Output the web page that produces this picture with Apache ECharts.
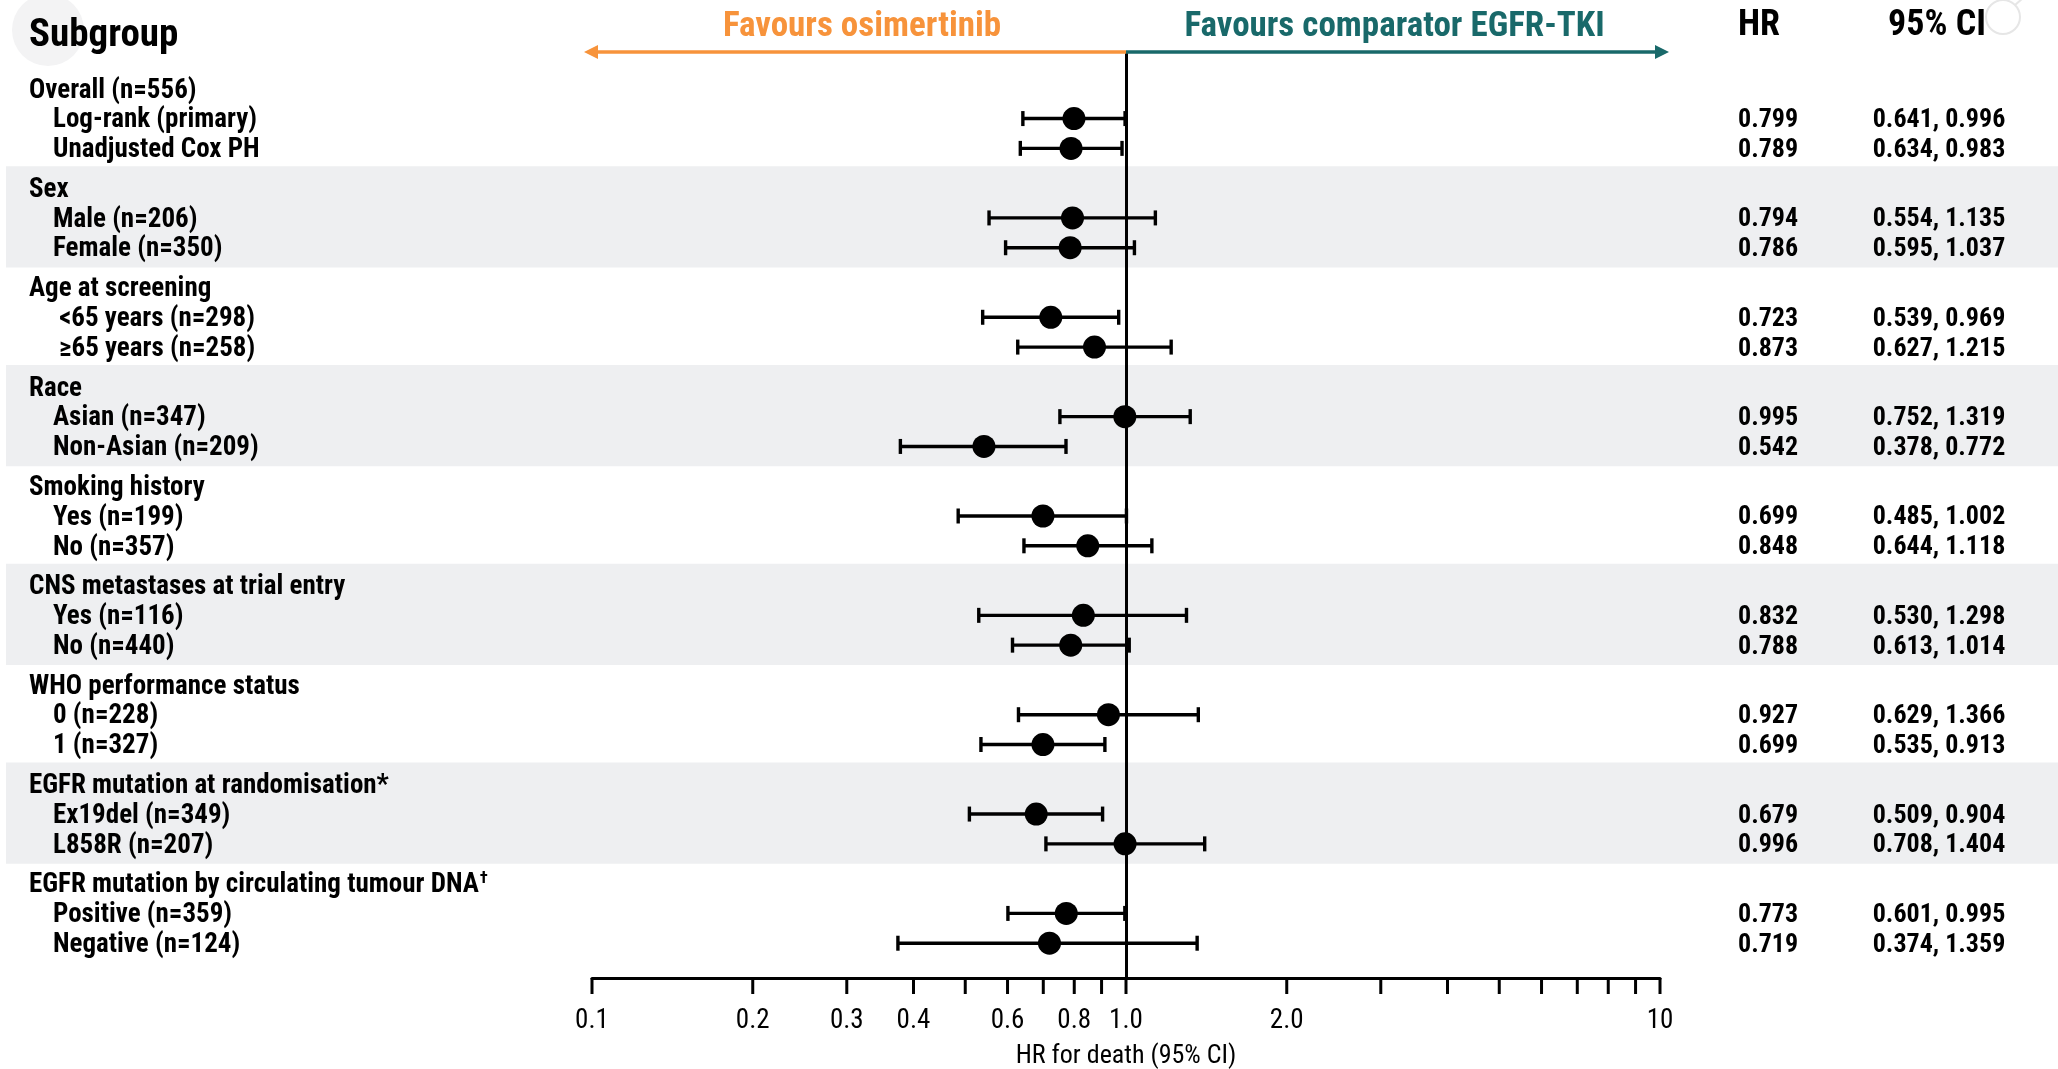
<!DOCTYPE html>
<html><head><meta charset="utf-8">
<script src="https://cdn.jsdelivr.net/npm/echarts@6/dist/echarts.min.js"></script>
<style>html,body{margin:0;padding:0;background:#fff}#c{width:2058px;height:1069px}</style>
</head><body><div id="c"></div>
<script>
// ---------------- data ----------------
const groupLabels = ['Overall (n=556)', 'Sex', 'Age at screening', 'Race', 'Smoking history',
  'CNS metastases at trial entry', 'WHO performance status', 'EGFR mutation at randomisation*',
  'EGFR mutation by circulating tumour DNA'];
const groupSup = ['', '', '', '', '', '', '', '', '†'];
const rowLabels = ['Log-rank (primary)', 'Unadjusted Cox PH', 'Male (n=206)', 'Female (n=350)',
  ' <65 years (n=298)', ' ≥65 years (n=258)', 'Asian (n=347)', 'Non-Asian (n=209)',
  'Yes (n=199)', 'No (n=357)', 'Yes (n=116)', 'No (n=440)', '0 (n=228)', '1 (n=327)',
  'Ex19del (n=349)', 'L858R (n=207)', 'Positive (n=359)', 'Negative (n=124)'];
const hr = [0.799, 0.789, 0.794, 0.786, 0.723, 0.873, 0.995, 0.542, 0.699, 0.848, 0.832, 0.788,
  0.927, 0.699, 0.679, 0.996, 0.773, 0.719];
const ciLow = [0.641, 0.634, 0.554, 0.595, 0.539, 0.627, 0.752, 0.378, 0.485, 0.644, 0.530, 0.613,
  0.629, 0.535, 0.509, 0.708, 0.601, 0.374];
const ciHigh = [0.996, 0.983, 1.135, 1.037, 0.969, 1.215, 1.319, 0.772, 1.002, 1.118, 1.298, 1.014,
  1.366, 0.913, 0.904, 1.404, 0.995, 1.359];
const tickValues = [0.1, 0.2, 0.3, 0.4, 0.5, 0.6, 0.7, 0.8, 0.9, 1, 2, 3, 4, 5, 6, 7, 8, 9, 10];
const labelTickValues = [0.1, 0.2, 0.3, 0.4, 0.6, 0.8, 1, 2, 10];
const labelTickTexts = ['0.1', '0.2', '0.3', '0.4', '0.6', '0.8', '1.0', '2.0', '10'];
const shadedGroups = [1, 3, 5, 7];
const axisTitle = 'HR for death (95% CI)';
const leftFavours = 'Favours osimertinib';
const rightFavours = 'Favours comparator EGFR-TKI';

// ---------------- layout helpers ----------------
const FONT = "'Liberation Sans Narrow','Arial Narrow','Roboto Condensed','DejaVu Sans Condensed',sans-serif";
const ORANGE = '#F7933B', TEAL = '#19696A';
const Y_MIN = -3.7, Y_MAX = 89.5;
const TY = 2; // text baseline nudge
const groupY = g => g * 10;
const rowY = i => Math.floor(i / 2) * 10 + 3 + (i % 2) * 3;

const rowData = rowLabels.map((_, i) => [hr[i], rowY(i), i]);
const ciData = rowLabels.map((_, i) => [ciLow[i], ciHigh[i], rowY(i), i]);
const groupData = groupLabels.map((_, g) => [1, groupY(g), g]);
const bandData = shadedGroups.map(g => [1, groupY(g) - 2.2, groupY(g) + 8.0]);

const chart = echarts.init(document.getElementById('c'), null, {renderer: 'canvas'});

function txt(text, x, y, size, weight, align, fill, extra) {
  return Object.assign({
    type: 'text',
    style: {text: text, x: x, y: y, font: weight + ' ' + size + 'px ' + FONT,
      fill: fill || '#000', textAlign: align || 'left', textVerticalAlign: 'middle'}
  }, extra || {});
}

const option = {
  animation: false,
  backgroundColor: '#fff',
  grid: {left: 592, right: 398, top: 52, bottom: 91, containLabel: false},
  xAxis: {
    type: 'log', logBase: 10, min: 0.1, max: 10, position: 'bottom',
    axisLine: {show: true, onZero: false, lineStyle: {color: '#000', width: 3}},
    axisTick: {show: false}, axisLabel: {show: false}, splitLine: {show: false}
  },
  yAxis: {type: 'value', inverse: true, min: Y_MIN, max: Y_MAX, show: false},
  graphic: [
    {type: 'circle', shape: {cx: 48, cy: 30, r: 36}, style: {fill: '#F3F3F4'}, z: -10},
    {type: 'circle', shape: {cx: 2003, cy: 17, r: 17}, style: {fill: 'none', stroke: '#E6E6E6', lineWidth: 2}, z: -10},
    {type: 'line', shape: {x1: 2015, y1: 5, x2: 2030, y2: -8}, style: {stroke: '#E6E6E6', lineWidth: 2}, z: -10}
  ],
  series: [
    { // shaded group bands
      type: 'custom', z: 1, silent: true, clip: false,
      data: bandData,
      renderItem: function (params, api) {
        const t = api.coord([1, api.value(1)])[1];
        const b = api.coord([1, api.value(2)])[1];
        return {type: 'rect', shape: {x: 6, y: t, width: 2052, height: b - t}, style: {fill: '#EEEFF1'}};
      }
    },
    { // headers, arrows, favours
      type: 'custom', z: 5, silent: true, clip: false,
      data: [[1, Y_MIN]],
      renderItem: function (params, api) {
        const c = api.coord([1, Y_MIN]);
        const l = api.coord([0.1, Y_MIN]);
        const r = api.coord([10, Y_MIN]);
        const y = c[1];
        const lx = l[0] - 8, rx = r[0] + 9;
        return {type: 'group', children: [
          {type: 'line', shape: {x1: lx + 8, y1: y, x2: c[0], y2: y}, style: {stroke: ORANGE, lineWidth: 3.5}},
          {type: 'polygon', shape: {points: [[lx, y], [lx + 14, y - 7], [lx + 14, y + 7]]}, style: {fill: ORANGE}},
          {type: 'line', shape: {x1: c[0], y1: y, x2: rx - 8, y2: y}, style: {stroke: TEAL, lineWidth: 3.5}},
          {type: 'polygon', shape: {points: [[rx, y], [rx - 14, y - 7], [rx - 14, y + 7]]}, style: {fill: TEAL}},
          txt(leftFavours, (lx + c[0]) / 2 + 7, 27, 35, 'bold', 'center', ORANGE),
          txt(rightFavours, (rx + c[0]) / 2 - 3, 27, 35, 'bold', 'center', TEAL),
          txt('Subgroup', 29, 36, 39, 'bold', 'left'),
          txt('HR', 1738, 26, 36, 'bold', 'left'),
          txt('95% CI', 1937, 26, 36, 'bold', 'center')
        ]};
      }
    },
    { // group header labels
      type: 'custom', z: 6, silent: true, clip: false,
      data: groupData,
      renderItem: function (params, api) {
        const y = api.coord([1, api.value(1)])[1] + TY;
        const g = api.value(2);
        const sup = groupSup[g];
        return {
          type: 'text',
          style: {
            text: '{n|' + groupLabels[g] + '}' + (sup ? '{s|' + sup + '}' : ''),
            x: 29, y: y, textAlign: 'left', textVerticalAlign: 'middle',
            rich: {
              n: {font: 'bold 27px ' + FONT, fill: '#000', lineHeight: 30},
              s: {font: 'bold 17px ' + FONT, fill: '#000', verticalAlign: 'top', lineHeight: 30, padding: [0, 0, 10, 1]}
            }
          }
        };
      }
    },
    { // row labels + HR + CI texts
      type: 'custom', z: 6, silent: true, clip: false,
      data: rowData,
      renderItem: function (params, api) {
        const y = api.coord([1, api.value(1)])[1] + TY;
        const i = api.value(2);
        return {type: 'group', children: [
          txt(rowLabels[i], 53, y, 27, 'bold', 'left'),
          txt(hr[i].toFixed(3), 1738, y, 26, 'bold', 'left'),
          txt(ciLow[i].toFixed(3) + ', ' + ciHigh[i].toFixed(3), 1939, y, 26, 'bold', 'center')
        ]};
      }
    },
    { // confidence intervals
      type: 'custom', z: 8, silent: true, clip: false,
      data: ciData,
      encode: {x: [0, 1], y: 2},
      renderItem: function (params, api) {
        const a = api.coord([api.value(0), api.value(2)]);
        const b = api.coord([api.value(1), api.value(2)]);
        const st = {stroke: '#000', lineWidth: 3.4};
        return {type: 'group', children: [
          {type: 'line', shape: {x1: a[0], y1: a[1], x2: b[0], y2: b[1]}, style: st},
          {type: 'line', shape: {x1: a[0], y1: a[1] - 7.5, x2: a[0], y2: a[1] + 7.5}, style: st},
          {type: 'line', shape: {x1: b[0], y1: b[1] - 7.5, x2: b[0], y2: b[1] + 7.5}, style: st}
        ]};
      }
    },
    { // point estimates
      type: 'scatter', z: 9, silent: true,
      data: rowData.map(d => [d[0], d[1]]),
      symbol: 'circle', symbolSize: 23,
      itemStyle: {color: '#000', opacity: 1},
      markLine: {
        silent: true, symbol: ['none', 'none'], label: {show: false},
        lineStyle: {color: '#000', width: 3, type: 'solid', opacity: 1},
        data: [{xAxis: 1}]
      }
    },
    { // x-axis ticks, tick labels and title
      type: 'custom', z: 7, silent: true, clip: false,
      data: [[1, Y_MAX]],
      renderItem: function (params, api) {
        const children = [];
        tickValues.forEach(v => {
          const p = api.coord([v, Y_MAX]);
          children.push({type: 'line', shape: {x1: p[0], y1: p[1], x2: p[0], y2: p[1] + 16},
            style: {stroke: '#000', lineWidth: 3}});
        });
        labelTickValues.forEach((v, k) => {
          const p = api.coord([v, Y_MAX]);
          children.push(txt(labelTickTexts[k], p[0], p[1] + 43, 27, 'normal', 'center'));
        });
        const c = api.coord([1, Y_MAX]);
        children.push(txt(axisTitle, c[0], c[1] + 78, 26, 'normal', 'center'));
        return {type: 'group', children: children};
      }
    }
  ]
};
chart.setOption(option);
</script>
</body></html>
